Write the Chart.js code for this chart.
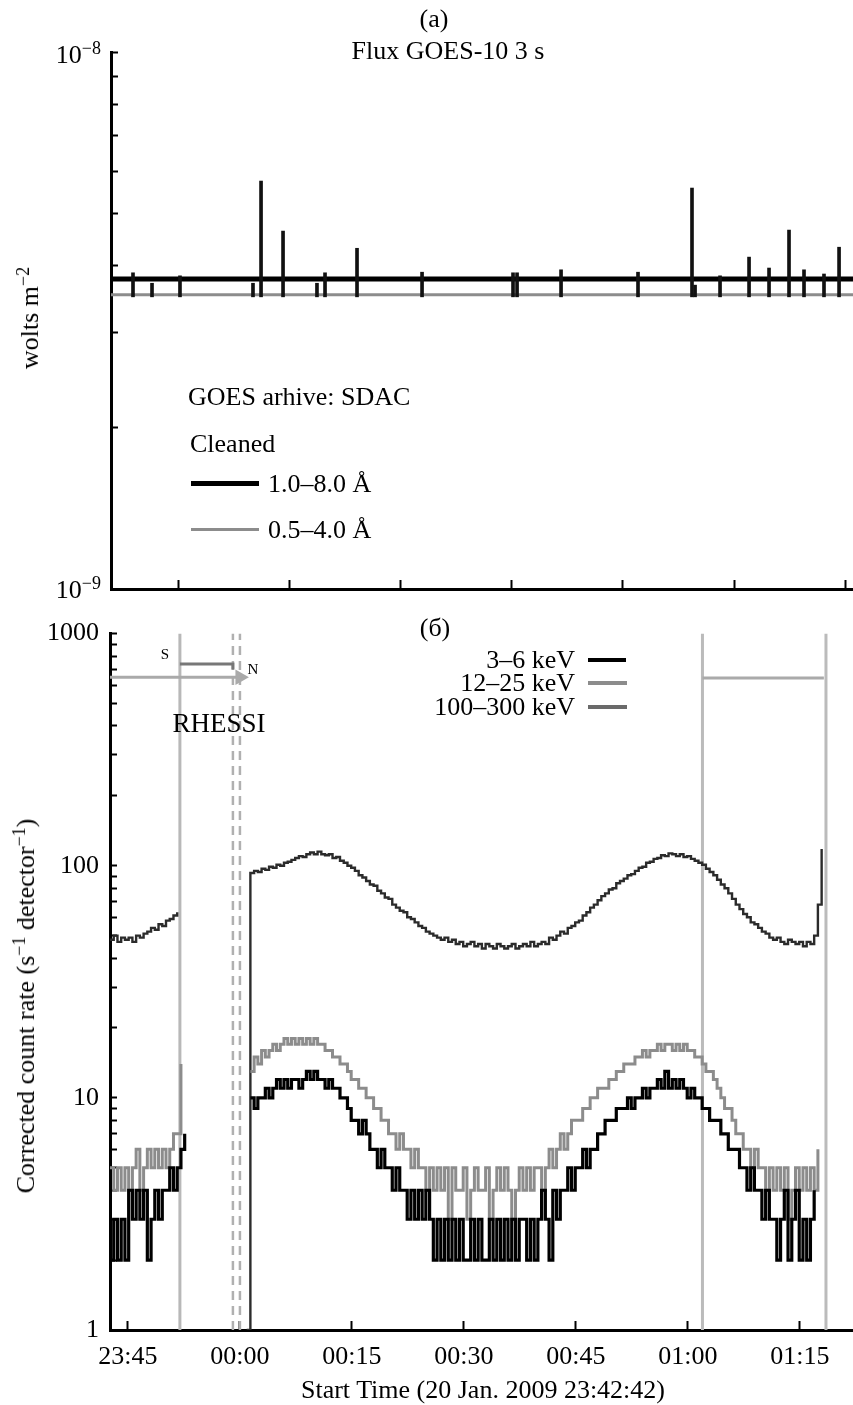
<!DOCTYPE html>
<html>
<head>
<meta charset="utf-8">
<script src="https://cdn.jsdelivr.net/npm/chart.js@4.4.1/dist/chart.umd.min.js"></script>
<style>
  body { margin: 0; background: #fff; }
  #page { position: relative; width: 853px; height: 1405px; overflow: hidden; background: #fff; }
  canvas { position: absolute; left: 0; }
  .t { position: absolute; font-family: 'Liberation Serif', 'DejaVu Serif', serif; font-size: 26px; line-height: 1; white-space: nowrap; color: #000; }
  .c { transform: translate(-50%, -50%); }
  .l { transform: translate(0, -50%); }
  .r { transform: translate(-100%, -50%); }
  .rot { transform: translate(-50%, -50%) rotate(-90deg); }
  .sup { position: relative; top: -9px; font-size: 18px; }
  .mark { position: absolute; }
</style>
</head>
<body>
<div id="page">
  <canvas id="goesChart" width="853" height="600" style="top:0"></canvas>
  <canvas id="rhessiChart" width="853" height="805" style="top:600px"></canvas>

  <!-- panel (a) -->
  <div class="t c" style="left:434px; top:19px">(a)</div>
  <div class="t c" style="left:448px; top:51px">Flux GOES-10 3 s</div>
  <div class="t r" style="left:101px; top:55px">10<span class="sup">−8</span></div>
  <div class="t r" style="left:101px; top:590px">10<span class="sup">−9</span></div>
  <div class="t rot" style="left:30px; top:318px">wolts m<span class="sup">−2</span></div>
  <div class="t l" style="left:188px; top:397px">GOES arhive: SDAC</div>
  <div class="t l" style="left:190px; top:444px">Cleaned</div>
  <div class="mark" style="left:191px; top:481px; width:68px; height:5px; background:#000"></div>
  <div class="t l" style="left:268px; top:484px">1.0–8.0 Å</div>
  <div class="mark" style="left:191px; top:528px; width:68px; height:3px; background:#8c8c8c"></div>
  <div class="t l" style="left:268px; top:530px">0.5–4.0 Å</div>

  <!-- panel (б) -->
  <div class="t c" style="left:435px; top:628px">(б)</div>
  <div class="t r" style="left:575px; top:660px">3–6 keV</div>
  <div class="t r" style="left:575px; top:683px">12–25 keV</div>
  <div class="t r" style="left:575px; top:707px">100–300 keV</div>
  <div class="mark" style="left:588px; top:658px; width:38px; height:4px; background:#000"></div>
  <div class="mark" style="left:588px; top:681px; width:39px; height:4px; background:#8c8c8c"></div>
  <div class="mark" style="left:588px; top:705px; width:39px; height:4px; background:#6a6a6a"></div>
  <div class="t c" style="left:219px; top:723px; font-size:27px">RHESSI</div>
  <div class="t c" style="left:165px; top:654px; font-size:15px">S</div>
  <div class="t c" style="left:253px; top:669px; font-size:15px">N</div>
  <div class="t rot" style="left:26px; top:1006px">Corrected count rate (s<span class="sup">−1</span> detector<span class="sup">−1</span>)</div>
  <div class="t c" style="left:483px; top:1390px">Start Time (20 Jan. 2009 23:42:42)</div>
</div>

<script>
// time is in minutes from 00:00 UT 21 Jan 2009 (negative = evening of 20 Jan)
const STEP = 0.5;   // 30 s bins
const FONT = "'Liberation Serif', 'DejaVu Serif', serif";

// ---- GOES-10 3 s flux (W m^-2) ----
const goesStart = -17.4;
const goesEnd = 82.1;
const goesLongLevel = 3.78e-9;    // 1.0-8.0 A
const goesShortLevel = 3.53e-9;   // 0.5-4.0 A
const goesSpikeFloor = 3.50e-9;
const goesSpikeTimes = [-14.45, -11.9, -8.15, 1.64, 2.72, 5.67, 10.22, 11.3, 15.59, 24.31,
  36.51, 37.05, 42.95, 53.27, 60.51, 60.92, 64.27, 68.16, 70.84, 73.52, 75.53, 78.21, 80.23];
const goesSpikePeaks = [3.88e-9, 3.71e-9, 3.83e-9, 3.71e-9, 5.75e-9, 4.64e-9, 3.71e-9, 3.88e-9, 4.31e-9, 3.89e-9,
  3.88e-9, 3.88e-9, 3.93e-9, 3.89e-9, 5.58e-9, 3.68e-9, 3.83e-9, 4.15e-9, 3.96e-9, 4.66e-9, 3.93e-9, 3.86e-9, 4.33e-9];
const goesXTicks = [-8.3, 6.6, 21.45, 36.35, 51.25, 66.15, 81.05];
const goesYTicks = [1e-9, 2e-9, 3e-9, 4e-9, 5e-9, 6e-9, 7e-9, 8e-9, 9e-9, 1e-8];

// ---- RHESSI corrected count rate (s^-1 detector^-1) ----
const rhessiStart = -17.4;
const rhessiEnd = 82.1;
const beforeStart = -17.4;     // first bin before the night gap
const loAfterStart = 1.4;
const hiAfterStart = 0.9;

const kev3_6Before = [2, 3, 2, 3, 2, 4, 3, 4, 3, 4, 2, 3, 4, 3, 4, 4, 5, 4, 5, 6, 7];
const kev3_6After = [
  10, 9, 10, 10, 11, 10, 11, 12, 11, 12,
  11, 12, 12, 11, 12, 13, 12, 13, 12, 12,
  11, 12, 11, 11, 10, 10, 9, 8, 8, 7,
  8, 7, 6, 6, 5, 6, 5, 5, 4, 5,
  4, 4, 3, 4, 3, 4, 3, 4, 3, 2,
  3, 2, 3, 2, 3, 2, 3, 2, 2, 3,
  2, 3, 2, 2, 3, 2, 3, 2, 3, 2,
  3, 2, 3, 3, 2, 3, 2, 3, 4, 3,
  2, 4, 3, 4, 4, 5, 4, 5, 5, 6,
  5, 6, 6, 7, 7, 8, 8, 8, 9, 9,
  9, 10, 9, 10, 10, 11, 10, 11, 11, 12,
  11, 13, 11, 12, 11, 12, 11, 10, 11, 10,
  10, 9, 9, 8, 8, 8, 7, 7, 6, 6,
  6, 5, 5, 4, 5, 4, 4, 3, 4, 3,
  3, 2, 3, 4, 2, 3, 4, 2, 3, 2,
  3, 4];

const kev12_25Before = [5, 4, 5, 4, 5, 4, 5, 6, 4, 5, 6, 5, 6, 5, 6, 5, 6, 7, 7, 14];
const kev12_25After = [
  13, 15, 14, 16, 15, 16, 17, 16, 17, 18,
  17, 18, 17, 18, 17, 18, 17, 18, 17, 17,
  16, 16, 15, 15, 14, 14, 13, 12, 12, 11,
  11, 10, 10, 9, 9, 8, 8, 7, 7, 6,
  7, 6, 6, 5, 6, 5, 5, 4, 5, 4,
  5, 4, 5, 3, 5, 4, 4, 5, 3, 4,
  5, 4, 4, 5, 3, 4, 5, 4, 5, 4,
  3, 4, 5, 4, 5, 4, 5, 5, 4, 5,
  6, 5, 6, 7, 6, 7, 8, 8, 8, 9,
  9, 10, 10, 11, 11, 11, 12, 12, 13, 13,
  14, 14, 14, 15, 15, 16, 15, 16, 16, 17,
  16, 17, 17, 16, 17, 16, 17, 16, 16, 15,
  15, 14, 13, 13, 12, 11, 10, 9, 9, 8,
  7, 7, 6, 6, 5, 6, 5, 5, 4, 5,
  4, 5, 4, 5, 3, 4, 5, 4, 5, 4,
  5, 4, 6];

const kev100_300Before = [48, 50, 47, 49, 48, 49, 47, 50, 49, 51, 52, 54, 53, 56, 55, 58, 59, 61, 63];
const kev100_300After = [1,
  93, 95, 94, 97, 96, 99, 98, 101, 100, 103,
  104, 106, 108, 110, 109, 112, 114, 112, 115, 112,
  111, 112, 108, 109, 105, 103, 100, 98, 95, 91,
  89, 86, 83, 82, 78, 76, 73, 72, 68, 66,
  64, 63, 60, 59, 57, 55, 54, 52, 51, 50,
  49, 48, 49, 47, 48, 46, 47, 45, 46, 47,
  45, 46, 44, 46, 45, 44, 46, 45, 44, 45,
  46, 44, 45, 46, 45, 47, 45, 46, 47, 46,
  49, 48, 50, 52, 51, 54, 55, 57, 58, 61,
  63, 66, 68, 71, 74, 76, 79, 80, 84, 86,
  88, 91, 92, 95, 98, 99, 103, 104, 107, 108,
  111, 110, 113, 112, 110, 112, 109, 110, 107, 105,
  103, 101, 97, 94, 91, 87, 83, 80, 76, 72,
  68, 65, 62, 60, 57, 56, 54, 52, 51, 49,
  48, 49, 47, 46, 48, 47, 46, 47, 45, 47,
  46, 50, 68, 118];

// orbit markers
const nightEntry = -8.04;
const saaStart = -0.94;
const saaEnd = 0.0;
const nightEntry2 = 61.94;
const nightExit2 = 78.48;
const dayLevel = 649;          // light bar (day) height on the plot
const saaLevel = 739;          // dark bar (SAA flag)
const dayLevel2 = 644;
const dayBarEnd2 = 78.2;

const rhessiXTicks = [-15, 0, 15, 30, 45, 60, 75];
const rhessiXLabels = ['23:45', '00:00', '00:15', '00:30', '00:45', '01:00', '01:15'];
const rhessiYTicks = [1, 2, 3, 4, 5, 6, 7, 8, 9, 10, 20, 30, 40, 50, 60, 70, 80, 90,
  100, 200, 300, 400, 500, 600, 700, 800, 900, 1000];
const rhessiYLabels = [1, 10, 100, 1000];

// ---- helpers ----
function timed(t0, values) {
  return values.map((v, i) => ({ x: t0 + i * STEP, y: v }));
}

function vline(t, color, width, dash) {
  return {
    data: [{ x: t, y: 1 }, { x: t, y: 1000 }],
    borderColor: color,
    borderWidth: width,
    borderDash: dash || [],
    pointRadius: 0
  };
}

function axisLook(tickLen) {
  return {
    border: { display: true, color: '#000', width: 3 },
    grid: {
      display: true,
      offset: false,
      drawOnChartArea: false,
      drawTicks: true,
      tickLength: tickLen,
      tickWidth: 2,
      tickColor: '#000'
    }
  };
}

// keep the plot area where the axes say, no extra label padding
function fixHeight(h) {
  return (s) => { s.height = h; s.paddingLeft = 0; s.paddingRight = 0; };
}

const common = {
  responsive: false,
  animation: false,
  events: [],
  plugins: { legend: { display: false }, tooltip: { enabled: false } }
};

// ---- panel (a): GOES ----
new Chart(document.getElementById('goesChart'), {
  type: 'line',
  data: {
    datasets: [
      {
        type: 'bar',
        data: goesSpikeTimes.map((t, i) => ({ x: t, y: [goesSpikeFloor, goesSpikePeaks[i]] })),
        backgroundColor: '#111',
        barThickness: 3
      },
      {
        data: [{ x: goesStart, y: goesLongLevel }, { x: goesEnd, y: goesLongLevel }],
        borderColor: '#000',
        borderWidth: 5,
        pointRadius: 0
      },
      {
        data: [{ x: goesStart, y: goesShortLevel }, { x: goesEnd, y: goesShortLevel }],
        borderColor: '#8c8c8c',
        borderWidth: 3,
        pointRadius: 0
      }
    ]
  },
  options: {
    ...common,
    layout: { autoPadding: false, padding: { top: 52, right: 0, left: 0, bottom: 0 } },
    scales: {
      x: {
        type: 'linear',
        min: goesStart,
        max: goesEnd,
        offset: false,
        ...axisLook(-9),
        ticks: { display: false },
        afterBuildTicks: (s) => { s.ticks = goesXTicks.map(v => ({ value: v })); },
        afterFit: fixHeight(11)
      },
      y: {
        type: 'logarithmic',
        min: 1e-9,
        max: 1e-8,
        ...axisLook(-7),
        ticks: { display: false },
        afterBuildTicks: (s) => { s.ticks = goesYTicks.map(v => ({ value: v })); },
        afterFit: (s) => { s.width = 111; }
      }
    }
  }
});

// ---- panel (б): RHESSI ----
new Chart(document.getElementById('rhessiChart'), {
  type: 'line',
  data: {
    datasets: [
      { data: timed(beforeStart, kev3_6Before), borderColor: '#000', borderWidth: 3.2, stepped: true, pointRadius: 0 },
      { data: timed(loAfterStart, kev3_6After), borderColor: '#000', borderWidth: 3.2, stepped: true, pointRadius: 0 },
      { data: timed(beforeStart, kev12_25Before), borderColor: '#8c8c8c', borderWidth: 3, stepped: true, pointRadius: 0 },
      { data: timed(loAfterStart, kev12_25After), borderColor: '#8c8c8c', borderWidth: 3, stepped: true, pointRadius: 0 },
      { data: timed(beforeStart, kev100_300Before), borderColor: '#2b2b2b', borderWidth: 2.4, stepped: true, pointRadius: 0 },
      { data: timed(hiAfterStart, kev100_300After), borderColor: '#2b2b2b', borderWidth: 2.4, stepped: true, pointRadius: 0 },
      {
        data: [{ x: nightEntry, y: saaLevel }, { x: saaStart, y: saaLevel }, { x: saaStart, y: 700 }],
        borderColor: '#777', borderWidth: 3, pointRadius: 0
      },
      {
        data: [{ x: rhessiStart, y: dayLevel }, { x: saaEnd, y: dayLevel }],
        borderColor: '#aaa', borderWidth: 3,
        pointRadius: [0, 6], pointStyle: 'triangle', rotation: 90,
        pointBackgroundColor: '#aaa', pointBorderColor: '#aaa'
      },
      {
        data: [{ x: nightEntry2, y: dayLevel2 }, { x: dayBarEnd2, y: dayLevel2 }],
        borderColor: '#aaa', borderWidth: 3, pointRadius: 0
      },
      vline(nightEntry, '#b8b8b8', 3),
      vline(saaStart, '#b0b0b0', 2.5, [9, 6]),
      vline(saaEnd, '#b0b0b0', 2.5, [9, 6]),
      vline(nightEntry2, '#bbbbbb', 3),
      vline(nightExit2, '#bbbbbb', 3)
    ]
  },
  options: {
    ...common,
    layout: { autoPadding: false, padding: { top: 26, right: 0, left: 0, bottom: 0 } },
    scales: {
      x: {
        type: 'linear',
        min: rhessiStart,
        max: rhessiEnd,
        offset: false,
        ...axisLook(-9),
        ticks: {
          autoSkip: false,
          maxRotation: 0,
          padding: 21,
          color: '#000',
          font: { family: FONT, size: 26 },
          callback: (v, i) => rhessiXLabels[i]
        },
        afterBuildTicks: (s) => { s.ticks = rhessiXTicks.map(v => ({ value: v })); },
        afterFit: fixHeight(75)
      },
      y: {
        type: 'logarithmic',
        min: 1,
        max: 1000,
        ...axisLook(-7),
        ticks: {
          autoSkip: false,
          padding: 18,
          color: '#000',
          font: { family: FONT, size: 26 },
          callback: (v) => rhessiYLabels.includes(v) ? String(v) : ''
        },
        afterBuildTicks: (s) => { s.ticks = rhessiYTicks.map(v => ({ value: v })); },
        afterFit: (s) => { s.width = 110; }
      }
    }
  }
});
</script>
</body>
</html>
